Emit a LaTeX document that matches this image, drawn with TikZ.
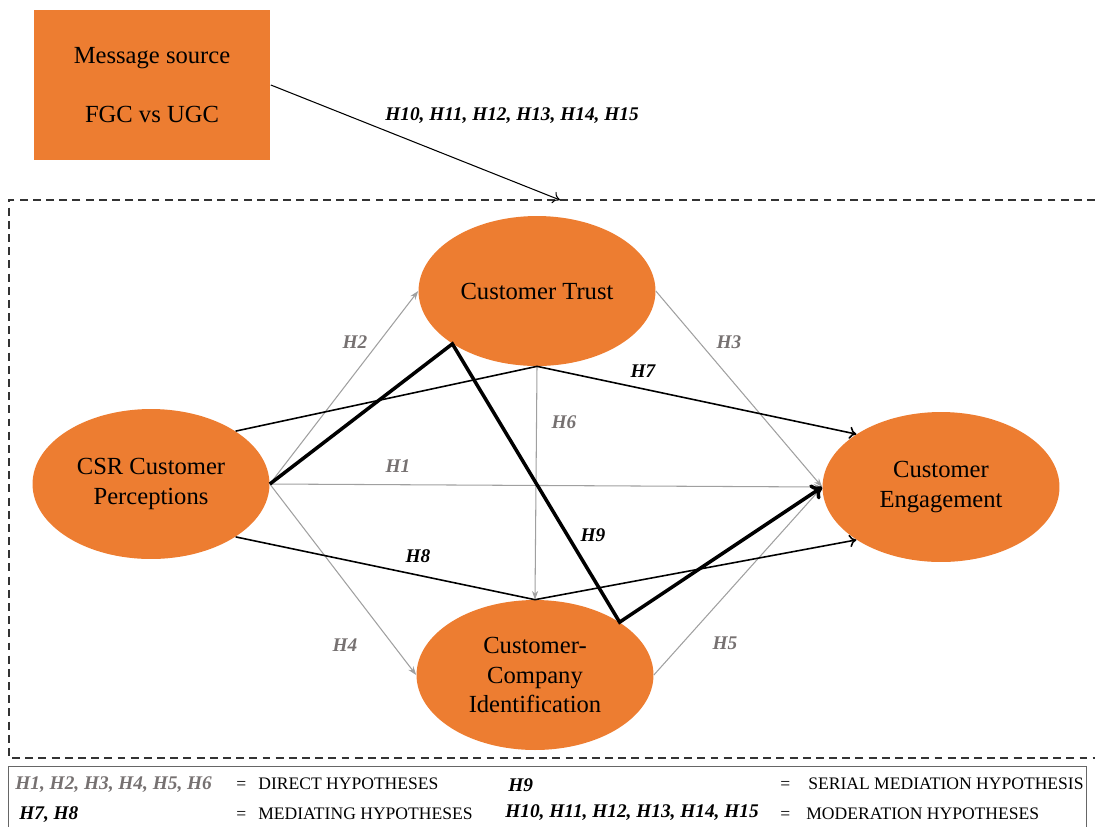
\documentclass[tikz,border=0pt]{standalone}
\usepackage{fontspec}
\setmainfont{Liberation Serif}
\usetikzlibrary{shapes.geometric, arrows.meta, positioning}
\definecolor{cfill}{HTML}{ED7D31}
\definecolor{hgray}{HTML}{767171}
\definecolor{lgray}{HTML}{A0A0A0}

\begin{document}
\begin{tikzpicture}[
    x=0.02cm, y=-0.02cm,
    construct/.style={
        ellipse,
        fill=cfill,
        inner sep=0pt,
        minimum width=4.74cm,
        minimum height=3cm,
        align=center,
        font=\fontsize{14}{17}\selectfont
    },
    source/.style={
        rectangle,
        fill=cfill,
        minimum width=4.74cm,
        minimum height=3.02cm,
        align=center,
        font=\fontsize{14}{34}\selectfont
    },
    direct/.style={
        draw=lgray,
        line width=0.6pt,
        -{Stealth[length=5pt, width=3.5pt]}
    },
    mediating/.style={
        draw=black,
        line width=0.9pt,
        -{To[length=4pt, width=7pt]}
    },
    serial/.style={
        draw=black,
        line width=2pt,
        -{To[length=6pt, width=10pt]}
    },
    hlabel/.style={font=\fontsize{11}{13}\selectfont\bfseries\itshape, text=hgray},
    mlabel/.style={hlabel, text=black},
    legend/.style={font=\fontsize{10}{12}\selectfont, anchor=base west, inner sep=0pt}
]
    \useasboundingbox (0,0) rectangle (1095,826);

    % Nodes
    \node [source] (msg) at (152,85) {Message source\\FGC vs UGC};
    \node [construct] (ct) at (537,291) {Customer Trust};
    \node [construct] (csr) at (151,484) {CSR Customer\\Perceptions};
    \node [construct] (ce) at (941,487) {Customer\\Engagement};
    \node [construct] (cci) at (535,675) {Customer-\\Company\\Identification};

    % Moderation frame
    \coordinate (modtop) at (560,200);
    \draw [dash pattern=on 4.5pt off 3pt, line width=0.6pt, draw=black!80]
        (1095,200) -- (9,200) -- (9,758) -- (1095,758);
    \draw [mediating, line width=0.6pt] (msg.east) -- (modtop);
    \node [mlabel] (hmod) at (512,116) {H10, H11, H12, H13, H14, H15};

    % Direct paths
    \draw [direct] (csr.east) -- (ce.west);
    \draw [direct] (csr.east) -- (ct.west);
    \draw [direct] (csr.east) -- (cci.west);
    \draw [direct] (ct.east) -- (ce.west);
    \draw [direct] (cci.east) -- (ce.west);
    \draw [direct] (ct.south) -- (cci.north);

    % Mediation paths
    \draw [mediating] (csr.32) -- (ct.south) -- (ce.148);
    \draw [mediating] (csr.-32) -- (cci.north) -- (ce.212);
    \draw [serial] (csr.east) -- (ct.212) -- (cci.32) -- (ce.west);

    % Labels
    \node [hlabel] (h1) at (398,466) {H1};
    \node [hlabel] (h2) at (355,342) {H2};
    \node [hlabel] (h3) at (729,342) {H3};
    \node [hlabel] (h4) at (345,645) {H4};
    \node [hlabel] (h5) at (725,643) {H5};
    \node [hlabel] (h6) at (564,422) {H6};
    \node [mlabel] (h7) at (643,371) {H7};
    \node [mlabel] (h8) at (418,556) {H8};
    \node [mlabel] (h9) at (593,535) {H9};

    % Legend
    \draw [draw=black!60, line width=0.5pt] (8,830) -- (8,766) -- (1086,766) -- (1086,830);
    \node [legend, hlabel] (lgdirect) at (15,789) {H1, H2, H3, H4, H5, H6};
    \node [legend] (eqdirect) at (236,789) {=};
    \node [legend] (txdirect) at (258,789) {DIRECT HYPOTHESES};
    \node [legend, mlabel] (lgserial) at (508,791) {H9};
    \node [legend] (eqserial) at (780,789) {=};
    \node [legend] (txserial) at (808,789) {SERIAL MEDIATION HYPOTHESIS};
    \node [legend, mlabel] (lgmed) at (19,819) {H7, H8};
    \node [legend] (eqmed) at (236,819) {=};
    \node [legend] (txmed) at (258,819) {MEDIATING HYPOTHESES};
    \node [legend, mlabel] (lgmod) at (505,817) {H10, H11, H12, H13, H14, H15};
    \node [legend] (eqmod) at (780,819) {=};
    \node [legend] (txmod) at (806,819) {MODERATION HYPOTHESES};
\end{tikzpicture}
\end{document}
